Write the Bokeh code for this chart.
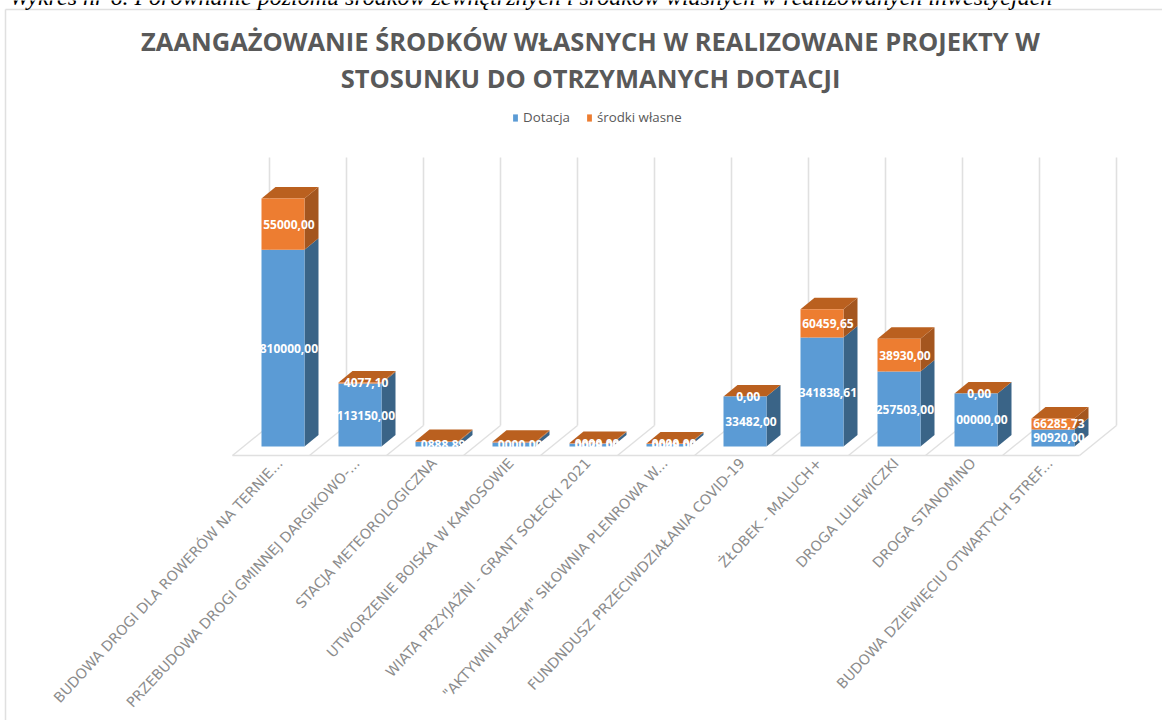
from bokeh.plotting import figure
from bokeh.embed import file_html
from bokeh.resources import INLINE
from bokeh.models import Range1d, FixedTicker, ColumnDataSource, Legend, LegendItem
from bokeh.core.properties import value
import math

caption = "Wykres nr 6. Porównanie poziomu środków zewnętrznych i środków własnych w realizowanych inwestycjach"
title_lines = ["ZAANGAŻOWANIE ŚRODKÓW WŁASNYCH W REALIZOWANE PROJEKTY W",
               "STOSUNKU DO OTRZYMANYCH DOTACJI"]
categories = ["BUDOWA DROGI DLA ROWERÓW NA TERNIE...", "PRZEBUDOWA DROGI GMINNEJ DARGIKOWO-...",
              "STACJA METEOROLOGICZNA", "UTWORZENIE BOISKA W KAMOSOWIE",
              "WIATA PRZYJAŹNI - GRANT SOŁECKI 2021", "\"AKTYWNI RAZEM\" SIŁOWNIA PLENROWA W...",
              "FUNDNDUSZ PRZECIWDZIAŁANIA COVID-19", "ŻŁOBEK - MALUCH+", "DROGA LULEWICZKI",
              "DROGA STANOMINO", "BUDOWA DZIEWIĘCIU OTWARTYCH STREF..."]
dotacja = [2520000, 806000, 60000, 50000, 38000, 32000, 640000, 1395000, 960000, 680000, 218000]
srodki = [655000, 14077.10, 10000, 10000, 8000, 6000, 0, 360459.65, 420000, 0, 141000]
dotacja_labels = ["810000,00", "113150,00", "0888,89", "0000,00", "0078,00", "0048,00",
                  "33482,00", "341838,61", "257503,00", "00000,00", "90920,00"]
srodki_labels = ["55000,00", "4077,10", "", "", "0000,00", "0000,00", "0,00", "60459,65",
                 "38930,00", "0,00", "66285,73"]
# digits of the label that fall outside the bar, white on white, so they cannot be seen
hidden_dotacja = [1, 1, 1, 1, 1, 1, 1, 1, 1, 1, 1]
hidden_srodki = [1, 1, 0, 0, 1, 1, 0, 1, 1, 0, 1]
series_names = ["Dotacja", "środki własne"]

BLUE, BLUE_SIDE = "#5B9BD5", "#3A6487"
ORANGE, ORANGE_SIDE, ORANGE_TOP = "#ED7D31", "#A4561F", "#BA601F"
GRID = "#e0e0e0"
W, H = 1162, 720
PX_X, PX_Y = 77.0, 12800.0          # one category / one pixel of value
X0, BASE = 282.5, 446.0             # pixel of the first category, pixel of value zero


def X(px):
    return (px - X0) / PX_X


def Y(px):
    return (BASE - px) * PX_Y


half = 21.5 / PX_X
dx, dy = 14.0 / PX_X, 11.5 * PX_Y

p = figure(width=W, height=H, frame_width=W, frame_height=H, output_backend="svg",
           toolbar_location=None, x_range=Range1d(X(0), X(W)), y_range=Range1d(Y(H), Y(0)),
           min_border=0, outline_line_color=None, y_axis_location=None)
p.grid.visible = False

ax = p.xaxis[0]
ax.fixed_location = Y(450)
ax.ticker = FixedTicker(ticks=[i - 3 / PX_X for i in range(len(categories))])
ax.major_label_overrides = {i - 3 / PX_X: c for i, c in enumerate(categories)}
ax.major_label_orientation = math.radians(47)
ax.major_label_text_font = "DejaVu Sans"
ax.major_label_text_font_size = "14.2px"
ax.major_label_text_color = "#8c8c8c"
ax.major_label_standoff = 4
ax.axis_line_color = None
ax.major_tick_line_color = None
ax.minor_tick_line_color = None

# chart area border
p.line([X(5), X(5)], [Y(9), Y(H)], line_color=GRID, line_width=1.5)
p.line([X(5), X(W)], [Y(9), Y(9)], line_color=GRID, line_width=1.5)

# back wall and floor
back_x = [X(269) + k for k in range(len(categories) + 1)]
back_top, back_low, front_low = Y(157), Y(425), Y(455)
floor_dx = 37 / PX_X
p.segment(back_x, back_top, back_x, back_low, line_color=GRID, line_width=1.6)
p.segment(back_x, back_low, [b - floor_dx for b in back_x], front_low, line_color=GRID, line_width=1.4)
p.line([back_x[0] - floor_dx, back_x[-1] - floor_dx], [front_low, front_low], line_color=GRID, line_width=1.4)

idx = list(range(len(categories)))
tops = [a + b for a, b in zip(dotacja, srodki)]
left = [i - half for i in idx]
right = [i + half for i in idx]


def side(lo, hi):
    xs = [[r, r + dx, r + dx, r] for r in right]
    ys = [[l, l + dy, h + dy, h] for l, h in zip(lo, hi)]
    return xs, ys


for i in idx:
    xs, ys = side([0] * len(idx), dotacja)
    p.patch(xs[i], ys[i], fill_color=BLUE_SIDE, line_color=None)
    xs, ys = side(dotacja, tops)
    p.patch(xs[i], ys[i], fill_color=ORANGE_SIDE, line_color=None)
    p.patch([left[i], left[i] + dx, right[i] + dx, right[i]],
            [tops[i], tops[i] + dy, tops[i] + dy, tops[i]],
            fill_color=ORANGE_TOP, line_color=None)

blue_r = p.quad(left=left, right=right, bottom=[0] * len(idx), top=dotacja, fill_color=BLUE, line_color=None)
orange_r = p.quad(left=left, right=right, bottom=dotacja, top=tops, fill_color=ORANGE, line_color=None)

# data labels: the cut-off digits still count for where the label is centred
lab_x, lab_y, lab_t = [], [], []
for i in idx:
    for txt, cut, pos in ((dotacja_labels[i], hidden_dotacja[i], dotacja[i] / 2),
                          (srodki_labels[i], hidden_srodki[i], dotacja[i] + srodki[i] / 2)):
        if txt:
            lab_x.append(i + (2 + (len(txt) + cut) * 3.3) / PX_X)
            lab_y.append(pos)
            lab_t.append(txt)
p.text(x="x", y="y", text="t", source=ColumnDataSource(dict(x=lab_x, y=lab_y, t=lab_t)),
       text_align="right", text_baseline="middle", text_color="#ffffff",
       text_font=value("Open Sans"), text_font_size="12px", text_font_style="bold")

# caption and title
p.text(x=[X(9)], y=[Y(9)], text=[caption], text_font=value("Liberation Serif"),
       text_font_style="italic", text_font_size="24px", text_color="#000000",
       text_align="left", text_baseline="bottom")
p.text(x=[X(590), X(590)], y=[Y(40), Y(77)], text=title_lines, text_font=value("Open Sans"),
       text_font_style="bold", text_font_size="25.5px", text_color="#595959",
       text_align="center", text_baseline="middle")

legend = Legend(items=[LegendItem(label=series_names[0], renderers=[blue_r]),
                       LegendItem(label=series_names[1], renderers=[orange_r])],
                orientation="horizontal", location=(512, H - 126),
                glyph_width=6, glyph_height=9, label_standoff=5, spacing=16,
                label_text_font="Open Sans", label_text_font_size="13.3px",
                label_text_color="#595959", background_fill_alpha=0, border_line_color=None,
                margin=0, padding=4)
p.add_layout(legend, "center")

open("out.html", "w").write(file_html(p, INLINE))
